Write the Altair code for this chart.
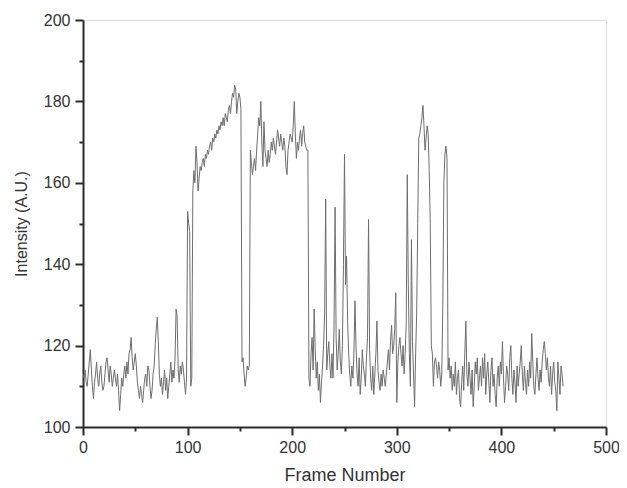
import altair as alt
import pandas as pd

intensity = [
    113, 112, 114, 111, 110, 113, 116, 119, 114, 110,
    107, 111, 113, 116, 112, 110, 113, 115, 111, 109,
    110, 113, 116, 117, 114, 111, 115, 113, 110, 112,
    114, 112, 110, 113, 109, 104, 108, 112, 110, 113,
    115, 112, 116, 113, 118, 119, 122, 117, 114, 116,
    118, 115, 111, 109, 107, 110, 108, 106, 109, 112,
    113, 110, 115, 114, 110, 107, 109, 113, 115, 120,
    124, 127, 121, 113, 110, 112, 108, 111, 114, 109,
    112, 107, 110, 113, 116, 111, 114, 112, 117, 129,
    127, 114, 111, 115, 113, 116, 114, 111, 108, 112,
    153, 150, 148, 110, 112, 158, 163, 160, 169, 165,
    158, 161, 164, 163, 165, 166, 164, 167, 166, 168,
    167, 169, 170, 168, 171, 170, 172, 171, 173, 172,
    174, 173, 175, 174, 176, 174, 177, 176, 175, 178,
    179, 177, 180, 182, 181, 184, 183, 177, 180, 182,
    181, 178, 116, 117, 113, 110, 112, 115, 114, 115,
    168, 165, 162, 164, 166, 163, 168, 172, 176, 174,
    180, 170, 164, 175, 168, 166, 164, 168, 165, 167,
    170, 168, 171, 169, 167, 170, 173, 171, 169, 172,
    170, 168, 171, 169, 164, 162, 168, 170, 172, 171,
    170, 174, 180, 172, 166, 170, 168, 171, 173, 169,
    172, 174, 170, 169, 168, 168, 112, 110, 118, 122,
    114, 129, 119, 112, 116, 109, 113, 106, 111, 115,
    120, 128, 156, 114, 118, 121, 115, 112, 118, 112,
    125, 154, 122, 114, 118, 124, 116, 113, 120, 140,
    167, 135, 142, 126, 118, 113, 110, 115, 112, 118,
    131, 120, 113, 110, 117, 108, 112, 119, 115, 113,
    110, 117, 122, 151, 119, 112, 109, 115, 108, 113,
    118, 126, 114, 111, 109, 113, 110, 114, 112, 110,
    113, 116, 119, 114, 121, 125, 118, 120, 124, 133,
    106, 116, 120, 122, 118, 115, 120, 113, 118, 125,
    162, 135, 118, 110, 146, 121, 113, 105, 118, 128,
    150, 171, 172, 174, 176, 179, 174, 168, 171, 174,
    172, 163, 150, 120, 118, 110, 116, 117, 115, 112,
    116, 114, 110, 113, 130, 160, 167, 169, 166, 114,
    117, 112, 115, 109, 113, 110, 116, 108, 112, 114,
    107, 105, 111, 115, 109, 118, 126, 113, 110, 116,
    112, 108, 114, 105, 110, 116, 113, 117, 109, 112,
    115, 110, 117, 112, 118, 108, 113, 116, 111, 106,
    114, 117, 110, 113, 108, 105, 112, 115, 110, 116,
    113, 121, 112, 106, 110, 115, 113, 109, 117, 120,
    112, 108, 114, 111, 106, 115, 110, 113, 116, 120,
    113, 109, 115, 111, 108, 114, 110, 116, 112, 123,
    116, 110, 108, 113, 117, 112, 109, 114, 111, 116,
    119, 121, 118, 114, 117, 112, 110, 115, 108, 113,
    116, 111, 109, 104, 116, 112, 108, 115, 113, 110,
]
frames = list(range(len(intensity)))

x_ticks = list(range(0, 501, 50))
y_ticks = list(range(100, 201, 10))

df = pd.DataFrame({"frame": frames, "intensity": intensity})

FONT = "Liberation Sans"
AX = "#2a2a2a"

x_axis = alt.Axis(
    title="Frame Number",
    values=x_ticks,
    labelExpr="datum.value % 100 === 0 ? datum.label : ''",
    tickSize={"condition": {"test": "datum.value % 100 === 0", "value": 8}, "value": 4},
    tickWidth=2, tickColor=AX, domainColor=AX, domainWidth=2,
    labelFont=FONT, labelFontSize=16, labelColor="#333333", labelPadding=4,
    titleFont=FONT, titleFontSize=18, titleFontWeight="normal", titleColor="#333333",
    titlePadding=11, grid=False, labelFlush=False,
)
y_axis = alt.Axis(
    title="Intensity (A.U.)",
    values=y_ticks,
    labelExpr="datum.value % 20 === 0 ? datum.label : ''",
    tickSize={"condition": {"test": "datum.value % 20 === 0", "value": 8}, "value": 4},
    tickWidth=2, tickColor=AX, domainColor=AX, domainWidth=2,
    labelFont=FONT, labelFontSize=16, labelColor="#333333", labelPadding=5,
    titleFont=FONT, titleFontSize=16, titleFontWeight="normal", titleColor="#333333",
    titlePadding=14, grid=False, labelFlush=False,
)

chart = (
    alt.Chart(df)
    .mark_line(color="#6e6e6e", strokeWidth=1, clip=True)
    .encode(
        x=alt.X("frame:Q", scale=alt.Scale(domain=[0, 500], nice=False, zero=False), axis=x_axis),
        y=alt.Y("intensity:Q", scale=alt.Scale(domain=[100, 200], nice=False, zero=False), axis=y_axis),
    )
    .properties(
        width=523,
        height=407,
        autosize=alt.AutoSizeParams(type="none"),
        padding={"left": 75, "top": 12, "right": 13, "bottom": 59},
    )
    .configure_view(stroke=None)
    .configure(background="white")
)

chart.save("out.html", embed_options={"renderer": "svg", "actions": False})
